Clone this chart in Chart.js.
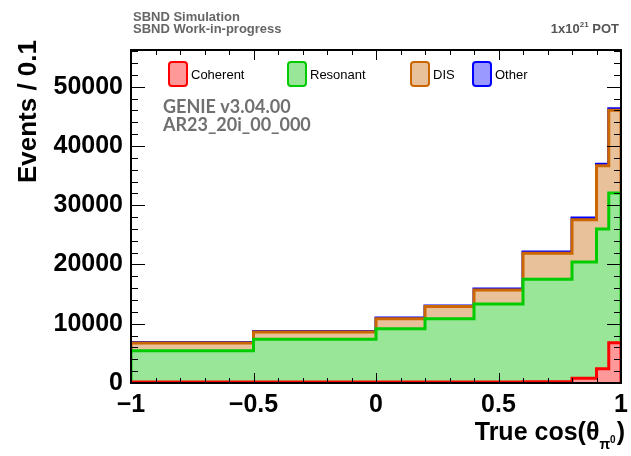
<!DOCTYPE html>
<html>
<head>
<meta charset="utf-8">
<script src="https://cdn.jsdelivr.net/npm/chart.js@4.4.1/dist/chart.umd.min.js"></script>
<style>
  html, body { margin: 0; padding: 0; background: #ffffff; }
  #wrap { position: relative; width: 631px; height: 456px; }
  canvas { display: block; }
</style>
</head>
<body>
<div id="wrap"><canvas id="c" width="631" height="456"></canvas></div>
<script>
// Bin edges of the histogram (True cos(theta_pi0))
const binEdges = [-1, -0.5, 0, 0.2, 0.4, 0.6, 0.8, 0.9, 0.95, 1];
// Per-component contents (Events / 0.1), one entry per bin
const coherent = [150, 150, 150, 160, 170, 200, 800, 2400, 6800];
const resonant = [5300, 7230, 9020, 10700, 13160, 17300, 19600, 23600, 25250];
const dis      = [1300, 1230, 1690, 2030, 2370, 4390, 7170, 10670, 14000];
const other    = [80, 80, 100, 100, 150, 200, 290, 230, 240];
const seriesNames = ['Coherent', 'Resonant', 'DIS', 'Other'];
const xTickValues = [-1, -0.5, 0, 0.5, 1];
const yTickValues = [0, 10000, 20000, 30000, 40000, 50000];

const lineColors = ['#ff0000', '#00cc00', '#cc6600', '#0000ff'];
const fillColors = ['rgba(255,153,153,1)', 'rgba(153,230,153,1)', 'rgba(232,193,155,1)', 'rgba(153,153,255,1)'];

const comps = [coherent, resonant, dis, other];
// cumulative stack (THStack style)
const cumul = [];
comps.forEach((arr, k) => {
  cumul.push(arr.map((v, i) => v + (k > 0 ? cumul[k - 1][i] : 0)));
});

function histPoints(vals) {
  const pts = [{ x: binEdges[0], y: 0 }];
  for (let i = 0; i < vals.length; i++) pts.push({ x: binEdges[i], y: vals[i] });
  pts.push({ x: binEdges[binEdges.length - 1], y: vals[vals.length - 1] });
  pts.push({ x: binEdges[binEdges.length - 1], y: 0 });
  return pts;
}

const datasets = seriesNames.map((name, k) => ({
  label: name,
  data: histPoints(cumul[k]),
  stepped: true,
  borderColor: lineColors[k],
  backgroundColor: fillColors[k],
  borderWidth: 3,
  pointRadius: 0,
  pointHoverRadius: 0,
  fill: 'origin',
  tension: 0,
  borderJoinStyle: 'miter'
}));

const FONT = '"Liberation Sans", Arial, Helvetica, sans-serif';

const decor = {
  id: 'decor',
  afterDraw(chart) {
    const ctx = chart.ctx;
    const { left, right, top, bottom } = chart.chartArea;
    const xs = chart.scales.x, ys = chart.scales.y;
    ctx.save();
    // ticks
    ctx.strokeStyle = '#000';
    ctx.lineWidth = 1;
    ctx.beginPath();
    for (let v = -10; v <= 10; v++) {
      const px = Math.round(xs.getPixelForValue(v / 10)) + 0.5;
      const len = (v % 5 === 0) ? 10 : 5;
      ctx.moveTo(px, bottom); ctx.lineTo(px, bottom - len);
      ctx.moveTo(px, top); ctx.lineTo(px, top + len);
    }
    for (let v = 0; v <= ys.max; v += 2000) {
      const py = Math.round(ys.getPixelForValue(v)) + 0.5;
      const len = (v % 10000 === 0) ? 14 : 7;
      ctx.moveTo(left, py); ctx.lineTo(left + len, py);
      ctx.moveTo(right, py); ctx.lineTo(right - len, py);
    }
    ctx.stroke();
    // frame
    ctx.lineWidth = 2;
    ctx.strokeRect(left, top, right - left, bottom - top);

    // legend
    const legX = [169, 288, 411, 473];
    chart.data.datasets.forEach((ds, k) => {
      const bx = legX[k], by = 62, bw = 18, bh = 24, r = 3;
      ctx.beginPath();
      ctx.moveTo(bx + r, by);
      ctx.arcTo(bx + bw, by, bx + bw, by + bh, r);
      ctx.arcTo(bx + bw, by + bh, bx, by + bh, r);
      ctx.arcTo(bx, by + bh, bx, by, r);
      ctx.arcTo(bx, by, bx + bw, by, r);
      ctx.closePath();
      ctx.fillStyle = ds.backgroundColor;
      ctx.fill();
      ctx.lineWidth = 2;
      ctx.strokeStyle = ds.borderColor;
      ctx.stroke();
      ctx.fillStyle = '#000';
      ctx.font = '13px ' + FONT;
      ctx.textAlign = 'left';
      ctx.textBaseline = 'alphabetic';
      ctx.fillText(ds.label, bx + bw + 4, 79);
    });

    // GENIE label
    ctx.fillStyle = '#707070';
    ctx.font = 'bold 18px Lato, "Open Sans", sans-serif';
    ctx.fillText('GENIE v3.04.00', 163, 113);
    ctx.fillText('AR23_20i_00_000', 163, 131);

    // header texts
    ctx.fillStyle = '#666666';
    ctx.font = 'bold 13px ' + FONT;
    ctx.fillText('SBND Simulation', 133, 21);
    ctx.fillText('SBND Work-in-progress', 133, 33);
    // POT
    ctx.fillStyle = '#555555';
    ctx.font = 'bold 13px ' + FONT;
    const potTail = ' POT';
    const wTail = ctx.measureText(potTail).width;
    ctx.font = 'bold 8px ' + FONT;
    const wSup = ctx.measureText('21').width;
    ctx.font = 'bold 13px ' + FONT;
    const wHead = ctx.measureText('1x10').width;
    const endX = 619;
    let x0 = endX - wTail - wSup - wHead;
    ctx.fillText('1x10', x0, 33);
    ctx.font = 'bold 8px ' + FONT;
    ctx.fillText('21', x0 + wHead, 27);
    ctx.font = 'bold 13px ' + FONT;
    ctx.fillText(potTail, x0 + wHead + wSup, 33);

    // y title
    ctx.save();
    ctx.fillStyle = '#000';
    ctx.font = 'bold 26px ' + FONT;
    ctx.translate(36, 40);
    ctx.rotate(-Math.PI / 2);
    ctx.textAlign = 'right';
    ctx.textBaseline = 'alphabetic';
    ctx.fillText('Events / 0.1', 0, 0);
    ctx.restore();

    // x title with subscript pi^0
    ctx.fillStyle = '#000';
    ctx.textAlign = 'left';
    ctx.textBaseline = 'alphabetic';
    const mainF = 'bold 25px ' + FONT, subF = 'bold 14px ' + FONT, supF = 'bold 10px ' + FONT;
    ctx.font = mainF; const w1 = ctx.measureText('True cos(\u03B8').width;
    ctx.font = subF; const w2 = ctx.measureText('\u03C0').width;
    ctx.font = supF; const w3 = ctx.measureText('0').width;
    ctx.font = mainF; const w4 = ctx.measureText(')').width;
    let tx = 625 - (w1 + w2 + w3 + w4 + 1);
    ctx.font = mainF; ctx.fillText('True cos(\u03B8', tx, 440); tx += w1;
    ctx.font = subF; ctx.fillText('\u03C0', tx, 449); tx += w2;
    ctx.font = supF; ctx.fillText('0', tx, 443); tx += w3 + 1;
    ctx.font = mainF; ctx.fillText(')', tx, 440);
    ctx.restore();
  }
};

new Chart(document.getElementById('c'), {
  type: 'line',
  data: { datasets },
  options: {
    responsive: false,
    animation: false,
    devicePixelRatio: 1,
    layout: { padding: { left: 0, right: 10, top: 50, bottom: 0 } },
    plugins: { legend: { display: false }, tooltip: { enabled: false } },
    events: [],
    scales: {
      x: {
        type: 'linear',
        min: -1, max: 1,
        grid: { display: false, drawTicks: false },
        border: { display: false },
        afterBuildTicks: (s) => { s.ticks = xTickValues.map(v => ({ value: v })); },
        afterFit: (s) => { s.height = 73; s.paddingLeft = 0; s.paddingRight = 0; },
        ticks: {
          color: '#000',
          font: { family: FONT, size: 25, weight: 'bold' },
          padding: 7,
          maxRotation: 0,
          autoSkip: false,
          callback: (v) => (v < 0 ? '\u2212' + String(Math.abs(v)) : String(v))
        }
      },
      y: {
        type: 'linear',
        min: 0, max: 56200,
        grid: { display: false, drawTicks: false },
        border: { display: false },
        afterBuildTicks: (s) => { s.ticks = yTickValues.map(v => ({ value: v })); },
        afterFit: (s) => { s.width = 131; s.paddingTop = 0; s.paddingBottom = 0; },
        ticks: {
          color: '#000',
          font: { family: FONT, size: 25, weight: 'bold' },
          padding: 8,
          autoSkip: false,
          callback: (v) => String(v)
        }
      }
    }
  },
  plugins: [decor]
});
</script>
</body>
</html>
